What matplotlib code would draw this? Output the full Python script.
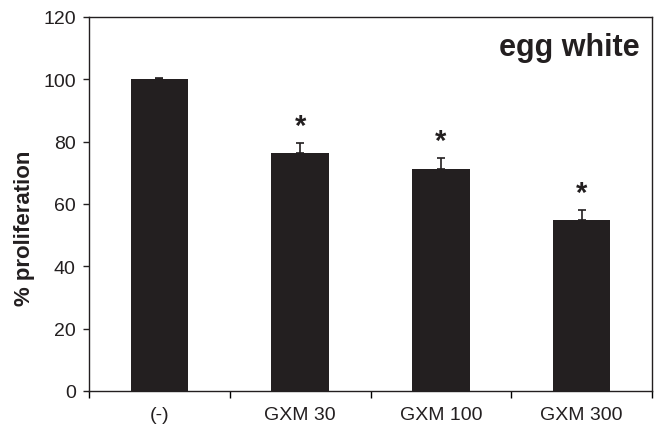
import matplotlib
matplotlib.use("Agg")
import matplotlib.pyplot as plt
import numpy as np

plt.rcParams['font.family'] = ['Liberation Sans', 'DejaVu Sans']

# proliferation relative to untreated control
groups = ["(-)", "GXM 30", "GXM 100", "GXM 300"]
proliferation = [100, 76.3, 71.3, 55.0]
sem = [0.3, 3.2, 3.5, 3.0]
significant = [False, True, True, True]

bar_color = "#231f20"

fig = plt.figure(figsize=(6.58, 4.35), dpi=100)
ax = fig.add_axes([89 / 658, 43 / 435, (652 - 89) / 658, (392 - 18) / 435])

x = np.arange(len(groups))
ax.bar(x, proliferation, width=0.41, color=bar_color, zorder=2)
ax.errorbar(x, proliferation, yerr=[np.zeros(len(sem)), sem], fmt="none",
            ecolor=bar_color, elinewidth=1.2, capsize=3, capthick=1.2, zorder=3)

for xi, val, err, sig in zip(x, proliferation, sem, significant):
    if sig:
        ax.text(xi, val + err + 5.5, "*", ha="center", va="center",
                fontsize=21, fontweight="bold", color=bar_color)

ax.set_xlim(-0.5, len(groups) - 0.5)
ax.set_ylim(0, 120)
ax.set_yticks(range(0, 121, 20))
ax.set_xticks(np.arange(len(groups) + 1) - 0.5)
ax.set_xticklabels([])
ax.set_xticks(x, minor=True)
ax.set_xticklabels(groups, minor=True)
ax.tick_params(axis="x", which="minor", length=0, pad=11, labelsize=14, colors="#231f20")
ax.tick_params(axis="x", which="major", direction="out", length=5, width=1)
ax.tick_params(axis="y", direction="out", length=4.5, width=1, labelsize=14, pad=5, colors="#231f20")

for side in ["top", "right", "left", "bottom"]:
    ax.spines[side].set_linewidth(1.0)
    ax.spines[side].set_color("#231f20")

fig.text(25 / 658, 1 - 228 / 435, "% proliferation", rotation=90, ha="center", va="center",
         fontsize=16, fontweight="bold", color="#231f20")
ax.text(0.978, 0.92, "egg white", transform=ax.transAxes, ha="right", va="center",
        fontsize=22, fontweight="bold", color="#231f20")

fig.savefig("out.png", dpi=100)
